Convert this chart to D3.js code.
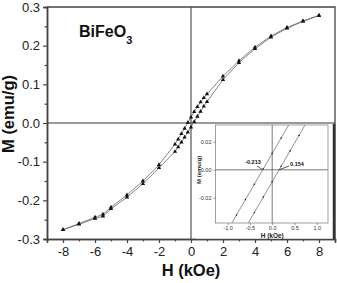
<!DOCTYPE html>
<html><head>
<meta charset="utf-8">
<script src="https://d3js.org/d3.v7.min.js"></script>
<style>
  body { margin: 0; background: #fff; }
  text { font-family: "Liberation Sans", Arial, sans-serif; }
</style>
</head>
<body>
<svg id="chart" width="337" height="283"></svg>
<script>
// field values (kOe) and magnetisation (emu/g)
let fieldH = [-8,-7,-6,-5.5,-5,-4,-3,-2,-1,-0.8,-0.6,-0.4,-0.2,0,0.2,0.4,0.6,0.8,1,2,3,4,5,6,7,8];
let mDown  = [-0.276,-0.260,-0.244,-0.236,-0.218,-0.186,-0.150,-0.108,-0.055,-0.042,-0.028,-0.014,0.001,0.015,0.029,0.042,0.054,0.065,0.075,0.121,0.161,0.196,0.225,0.247,0.264,0.278];
let mUp    = [-0.276,-0.262,-0.247,-0.241,-0.222,-0.192,-0.157,-0.116,-0.074,-0.062,-0.050,-0.037,-0.024,-0.011,0.003,0.017,0.030,0.043,0.055,0.112,0.156,0.192,0.222,0.245,0.263,0.278];

// inset (zoom near the origin)
let insetH     = [-1.0,-0.8,-0.6,-0.4,-0.2,0,0.2,0.4,0.6,0.8];
let insetDown  = [-0.0433,-0.0323,-0.0213,-0.0103,0.0007,0.0117,0.0227,0.0337,0.0447,0.0557];
let insetUp    = [-0.0635,-0.0525,-0.0415,-0.0305,-0.0195,-0.0085,0.0025,0.0135,0.0245,0.0355];
let coercive   = [-0.213, 0.154];

let yTicks = [-0.3,-0.2,-0.1,0,0.1,0.2,0.3];
let yMinor = [-0.25,-0.15,-0.05,0.05,0.15,0.25];
let xTicks = [-8,-6,-4,-2,0,2,4,6,8];
let xMinor = [-7,-5,-3,-1,1,3,5,7];
let ixTicks = [-1,-0.5,0,0.5,1];
let iyTicks = [-0.02,0,0.02];

let svg = d3.select("#chart");
let x = d3.scaleLinear().domain([-9,9]).range([47,335]);
let y = d3.scaleLinear().domain([-0.3,0.3]).range([239,7]);

// zero lines
svg.append("line").attr("x1",x(0)).attr("x2",x(0)).attr("y1",y(0.3)).attr("y2",y(-0.3))
  .style("stroke","#333").style("stroke-width",1);
svg.append("line").attr("x1",x(-9)).attr("x2",x(9)).attr("y1",y(0)).attr("y2",y(0))
  .style("stroke","#333").style("stroke-width",1);

// frame top/right
svg.append("path").attr("d","M"+x(-9)+","+y(0.3)+"H"+x(9)+"V"+y(-0.3))
  .style("fill","none").style("stroke","#444").style("stroke-width",1.3);

// axes
function styleAxis(g, fs) {
  g.select(".domain").style("stroke","#444").style("stroke-width",1.5);
  g.selectAll(".tick line").style("stroke","#444").style("stroke-width",1.2);
  g.selectAll("text").style("font-size",fs).style("fill","#222")
    .style("font-family","'Liberation Sans', Arial, sans-serif");
}
let yAxis = svg.append("g").attr("transform","translate("+x(-9)+",0)")
  .call(d3.axisLeft(y).tickValues(yTicks).tickSize(4).tickPadding(3).tickFormat(d => d.toFixed(1)));
styleAxis(yAxis,"13px");
let yAxisMinor = svg.append("g").attr("transform","translate("+x(-9)+",0)")
  .call(d3.axisLeft(y).tickValues(yMinor).tickSize(2.5).tickFormat(""));
styleAxis(yAxisMinor,"13px");

let xAxis = svg.append("g").attr("transform","translate(0,"+y(-0.3)+")")
  .call(d3.axisBottom(x).tickValues(xTicks).tickSize(4).tickPadding(4).tickFormat(d => String(d)));
styleAxis(xAxis,"13px");
let xAxisMinor = svg.append("g").attr("transform","translate(0,"+y(-0.3)+")")
  .call(d3.axisBottom(x).tickValues(xMinor).tickSize(2.5).tickFormat(""));
styleAxis(xAxisMinor,"13px");

// axis titles
svg.append("text").attr("x",x(0)).attr("y",276).attr("text-anchor","middle")
  .style("font-size","16.5px").style("font-weight","bold").style("fill","#111").text("H (kOe)");
svg.append("text").attr("transform","translate(14,114) rotate(-90)").attr("text-anchor","middle")
  .style("font-size","16.5px").style("font-weight","bold").style("fill","#111").text("M (emu/g)");

// sample label
let lab = svg.append("text").attr("x",79).attr("y",37)
  .style("font-size","16px").style("font-weight","bold").style("fill","#111");
lab.append("tspan").text("BiFeO");
lab.append("tspan").attr("dy",7).style("font-size","11px").text("3");

// hysteresis branches
let line = d3.line().x(d => x(d[0])).y(d => y(d[1]));
let tri = d3.symbol().type(d3.symbolTriangle).size(8);
[mDown, mUp].forEach(function(m) {
  let pts = fieldH.map((h,i) => [h, m[i]]);
  svg.append("path").attr("d", line(pts))
    .style("fill","none").style("stroke","#666").style("stroke-width",0.8);
  svg.selectAll(null).data(pts).enter().append("path")
    .attr("d", tri)
    .attr("transform", d => "translate("+x(d[0])+","+y(d[1])+")")
    .style("fill","#111");
});

// ---- inset ----
let ix = d3.scaleLinear().domain([-1.27,1.25]).range([215.5,328]);
let iy = d3.scaleLinear().domain([-0.038,0.032]).range([223,125]);

svg.append("rect").attr("x",196).attr("y",124.5).attr("width",138).attr("height",114)
  .style("fill","#fff");
svg.append("line").attr("x1",334).attr("x2",334).attr("y1",124).attr("y2",239)
  .style("stroke","#333").style("stroke-width",2.5);

svg.append("clipPath").attr("id","insetClip").append("rect")
  .attr("x",ix(-1.27)).attr("y",iy(0.032)).attr("width",ix(1.25)-ix(-1.27)).attr("height",iy(-0.038)-iy(0.032));

let inset = svg.append("g");
inset.append("line").attr("x1",ix(0)).attr("x2",ix(0)).attr("y1",iy(0.032)).attr("y2",iy(-0.038))
  .style("stroke","#555").style("stroke-width",0.8);
inset.append("line").attr("x1",ix(-1.27)).attr("x2",ix(1.25)).attr("y1",iy(0)).attr("y2",iy(0))
  .style("stroke","#555").style("stroke-width",0.8);

let iline = d3.line().x(d => ix(d[0])).y(d => iy(d[1]));
let clipped = inset.append("g").attr("clip-path","url(#insetClip)");
[insetDown, insetUp].forEach(function(m) {
  let pts = insetH.map((h,i) => [h, m[i]]);
  clipped.append("path").attr("d", iline(pts))
    .style("fill","none").style("stroke","#777").style("stroke-width",0.8);
  clipped.selectAll(null).data(pts).enter().append("circle")
    .attr("cx", d => ix(d[0])).attr("cy", d => iy(d[1])).attr("r",0.8)
    .style("fill","#222");
});

inset.append("rect").attr("x",ix(-1.27)).attr("y",iy(0.032))
  .attr("width",ix(1.25)-ix(-1.27)).attr("height",iy(-0.038)-iy(0.032))
  .style("fill","none").style("stroke","#888").style("stroke-width",0.8);

function styleInset(g) {
  g.select(".domain").remove();
  g.selectAll(".tick line").style("stroke","#666").style("stroke-width",0.7);
  g.selectAll("text").style("font-size","5.5px").style("fill","#333");
}
let iyAxis = inset.append("g").attr("transform","translate("+ix(-1.27)+",0)")
  .call(d3.axisLeft(iy).tickValues(iyTicks).tickSize(2).tickPadding(2).tickFormat(d => d.toFixed(2)));
styleInset(iyAxis);
let ixAxis = inset.append("g").attr("transform","translate(0,"+iy(-0.038)+")")
  .call(d3.axisBottom(ix).tickValues(ixTicks).tickSize(2).tickPadding(1.5).tickFormat(d => d.toFixed(1)));
styleInset(ixAxis);

inset.append("text").attr("x",ix(0)).attr("y",238).attr("text-anchor","middle")
  .style("font-size","6.5px").style("font-weight","bold").style("fill","#222").text("H (kOe)");
inset.append("text").attr("transform","translate(201,"+iy(0)+") rotate(-90)").attr("text-anchor","middle")
  .style("font-size","6px").style("font-weight","bold").style("fill","#222").text("M (emu/g)");

// coercive field annotations
let notes = [
  {v: coercive[0], tx: 253, ty: 164, x1: 257, y1: 166},
  {v: coercive[1], tx: 297, ty: 166, x1: 289, y1: 166}
];
notes.forEach(function(n) {
  inset.append("text").attr("x",n.tx).attr("y",n.ty).attr("text-anchor","middle")
    .style("font-size","5.5px").style("font-weight","bold").style("fill","#111").text(String(n.v));
  inset.append("line").attr("x1",n.x1).attr("y1",n.y1).attr("x2",ix(n.v)).attr("y2",iy(0))
    .style("stroke","#111").style("stroke-width",0.7);
});
</script>
</body>
</html>
